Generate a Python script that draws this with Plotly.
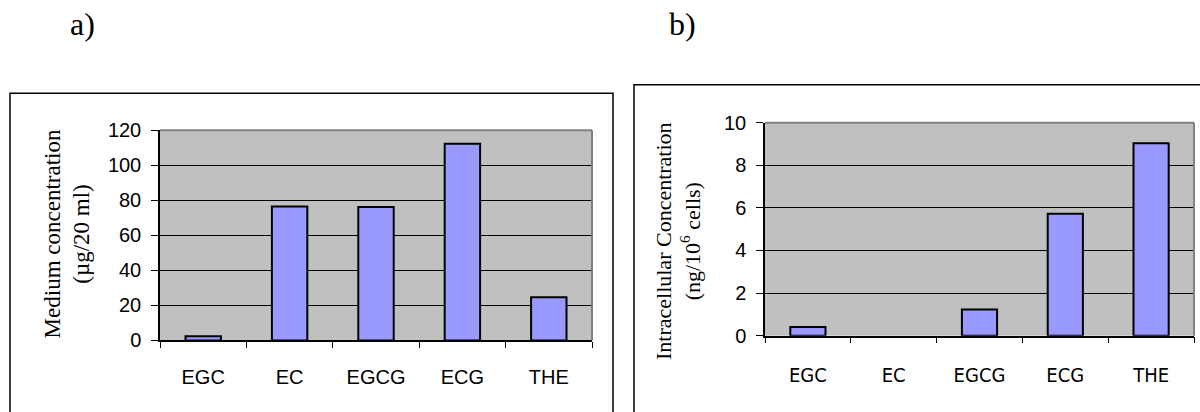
import plotly.graph_objects as go

# Catechin data for the two panels
categories = ["EGC", "EC", "EGCG", "ECG", "THE"]
medium_conc = [2.4, 76.4, 76.2, 112.3, 24.7]          # µg/20 ml
intracellular_conc = [0.41, 0.0, 1.23, 5.73, 9.03]    # ng/10^6 cells

W, H = 1200, 412

def px(x):
    return x / W

def py(y):
    return 1 - y / H

BAR_FILL = "#9999FF"
PLOT_BG = "#C0C0C0"
SERIF = "Liberation Serif, Times New Roman, serif"
SANS = "Liberation Sans, Arial, sans-serif"
CONDENSED = "DejaVu Sans Condensed, Liberation Sans Narrow, Arial Narrow, sans-serif"


def outline_widths(values):
    # zero-height bars get no outline so they stay invisible
    return [0 if v == 0 else 2 for v in values]


fig = go.Figure()

fig.add_trace(go.Bar(
    x=categories, y=medium_conc, xaxis="x", yaxis="y", width=0.41,
    marker=dict(color=BAR_FILL, line=dict(color="black", width=outline_widths(medium_conc))),
    showlegend=False,
))
fig.add_trace(go.Bar(
    x=categories, y=intracellular_conc, xaxis="x2", yaxis="y2", width=0.41,
    marker=dict(color=BAR_FILL, line=dict(color="black", width=outline_widths(intracellular_conc))),
    showlegend=False,
))

common_x = dict(
    type="category", showgrid=False, showline=True, linecolor="black", linewidth=1.5,
    ticks="outside", tickson="boundaries", ticklen=6, tickcolor="black", tickwidth=1,
    fixedrange=True,
)
common_y = dict(
    showgrid=True, gridcolor="black", gridwidth=1, showline=True, linecolor="black",
    linewidth=1.5, ticks="outside", ticklen=7, tickcolor="black", tickwidth=1,
    zeroline=False, fixedrange=True, tickfont=dict(family=SANS, size=20, color="black"),
)

fig.update_layout(
    width=W, height=H, margin=dict(l=0, r=0, t=0, b=0),
    paper_bgcolor="white", plot_bgcolor=PLOT_BG, bargap=0.59,
    xaxis=dict(domain=[px(160), px(592)], anchor="y",
               tickfont=dict(family=SANS, size=20, color="black"),
               ticklabelstandoff=18, **common_x),
    yaxis=dict(domain=[py(348), py(126)], anchor="x", range=[0, 120], dtick=20,
               ticklabelstandoff=6, **common_y),
    xaxis2=dict(domain=[px(765), px(1194)], anchor="y2",
                tickfont=dict(family=CONDENSED, size=20, color="black"),
                ticklabelstandoff=21, **common_x),
    yaxis2=dict(domain=[py(343), py(118)], anchor="x2", range=[0, 10], dtick=2,
                ticklabelstandoff=6, **common_y),
)

shapes = []
# grey top/right edges of each plotting area
for xr, yr in (("x domain", "y domain"), ("x2 domain", "y2 domain")):
    shapes.append(dict(type="line", xref=xr, yref=yr, x0=0, x1=1, y0=1, y1=1,
                       line=dict(color="#808080", width=2), layer="above"))
    shapes.append(dict(type="line", xref=xr, yref=yr, x0=1, x1=1, y0=0, y1=1,
                       line=dict(color="#808080", width=2), layer="above"))
# outer frames around the panels
shapes.append(dict(type="rect", xref="paper", yref="paper",
                   x0=px(10), x1=px(613), y0=py(430), y1=py(87),
                   line=dict(color="black", width=1.5), fillcolor="rgba(0,0,0,0)"))
shapes.append(dict(type="rect", xref="paper", yref="paper",
                   x0=px(634), x1=px(1220), y0=py(430), y1=py(78),
                   line=dict(color="black", width=1.5), fillcolor="rgba(0,0,0,0)"))
fig.update_layout(shapes=shapes)

annotations = [
    dict(text="a)", x=px(82), y=py(14), xref="paper", yref="paper",
         showarrow=False, xanchor="center", yanchor="middle",
         font=dict(family=SERIF, size=32, color="black")),
    dict(text="b)", x=px(682), y=py(14), xref="paper", yref="paper",
         showarrow=False, xanchor="center", yanchor="middle",
         font=dict(family=SERIF, size=32, color="black")),
    dict(text="Medium concentration<br>(µg/20 ml)", x=px(67), y=py(236),
         xref="paper", yref="paper", showarrow=False, textangle=-90,
         xanchor="center", yanchor="middle",
         font=dict(family=SERIF, size=23, color="black")),
    dict(text="Intracellular Concentration<br>(ng/10<sup>6</sup> cells)", x=px(678), y=py(243),
         xref="paper", yref="paper", showarrow=False, textangle=-90,
         xanchor="center", yanchor="middle",
         font=dict(family=SERIF, size=22, color="black")),
]
fig.update_layout(annotations=annotations)

fig.write_html("out.html")
